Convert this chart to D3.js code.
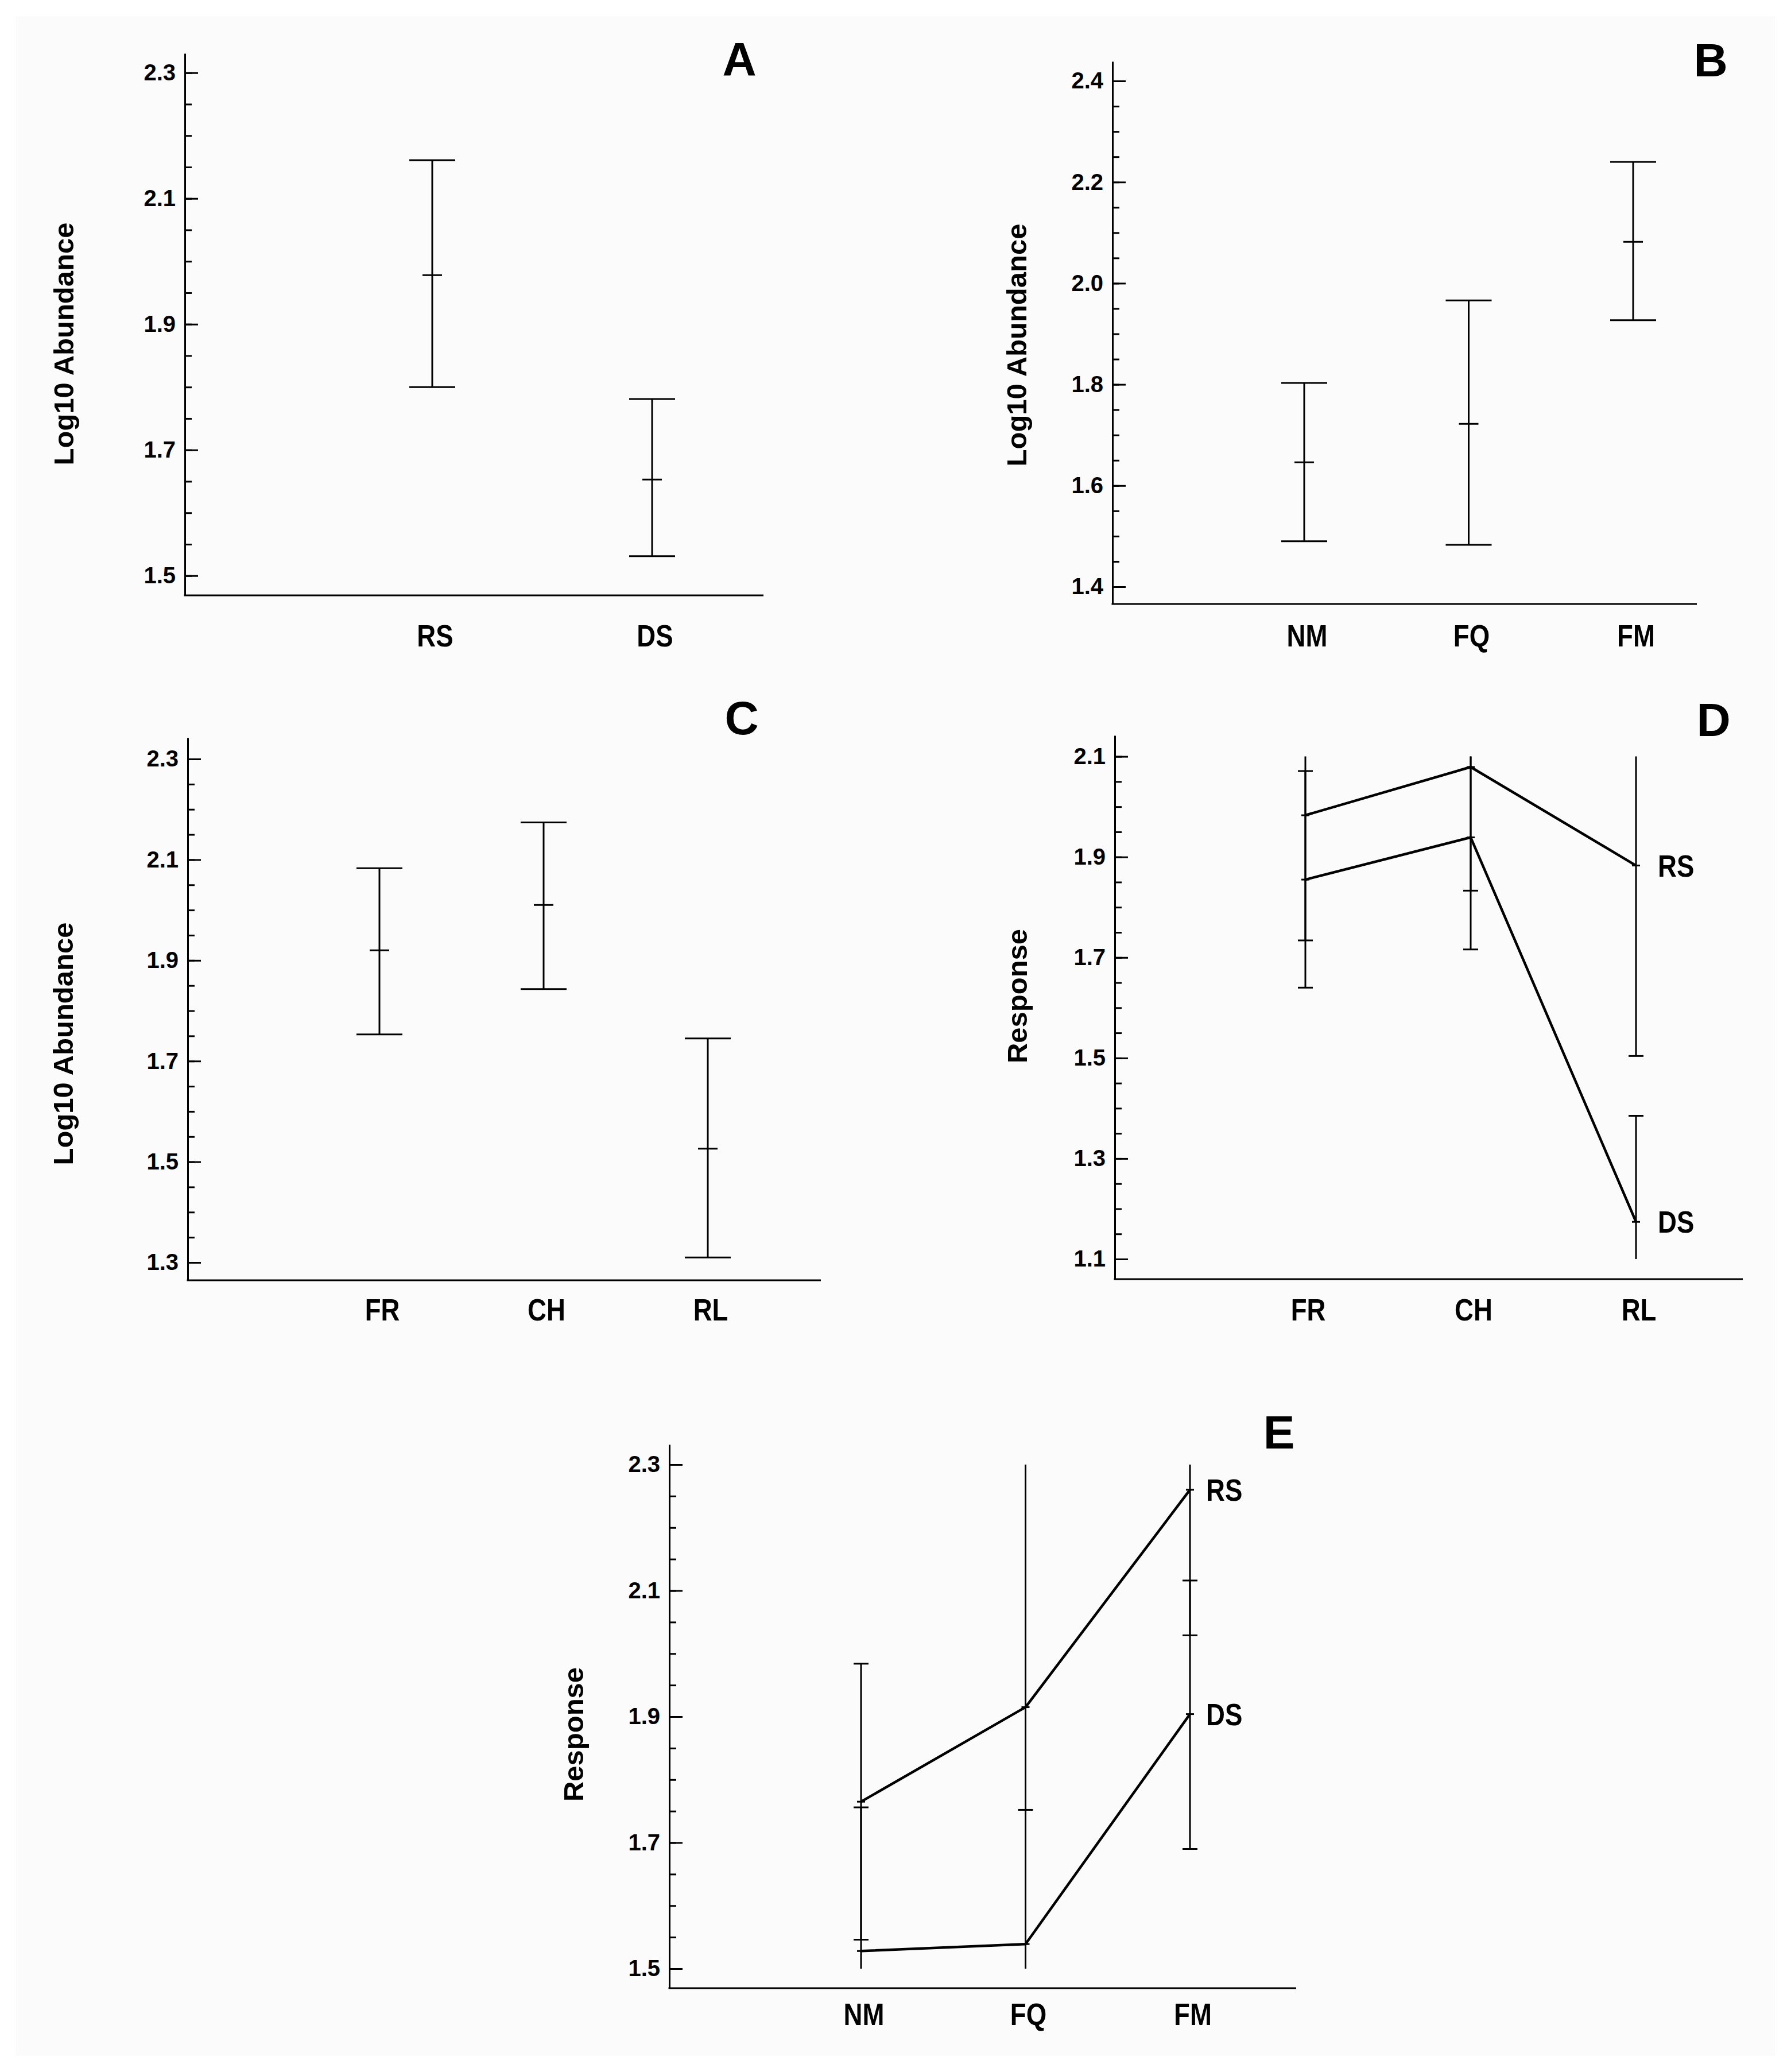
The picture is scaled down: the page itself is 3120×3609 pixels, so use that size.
<!DOCTYPE html>
<html><head><meta charset="utf-8">
<script src="https://cdn.jsdelivr.net/npm/d3@7"></script>
<style>body{margin:0;background:#fff} svg{display:block}</style>
</head><body>
<svg id="fig" width="3120" height="3609"></svg>
<script>
// ---------------- DATA ----------------
const panelLetters = ["A", "B", "C", "D", "E"];
const yTitles = ["Log10 Abundance", "Log10 Abundance", "Log10 Abundance", "Response", "Response"];

const catsA = ["RS", "DS"];
const meanA = [1.978, 1.653];
const lowA  = [1.800, 1.531];
const highA = [2.161, 1.781];
const ticksA = [1.5, 1.7, 1.9, 2.1, 2.3];

const catsB = ["NM", "FQ", "FM"];
const meanB = [1.646, 1.722, 2.082];
const lowB  = [1.490, 1.483, 1.927];
const highB = [1.803, 1.966, 2.240];
const ticksB = [1.4, 1.6, 1.8, 2.0, 2.2, 2.4];

const catsC = ["FR", "CH", "RL"];
const meanC = [1.920, 2.010, 1.526];
const lowC  = [1.753, 1.843, 1.310];
const highC = [2.083, 2.174, 1.745];
const ticksC = [1.3, 1.5, 1.7, 1.9, 2.1, 2.3];

const catsD = ["FR", "CH", "RL"];
const seriesD = ["RS", "DS"];
const meanD_RS = [1.983, 2.079, 1.883];
const lowD_RS  = [1.734, 1.833, 1.504];
const highD_RS = [2.232, 2.325, 2.262];
const meanD_DS = [1.855, 1.939, 1.174];
const lowD_DS  = [1.640, 1.716, 0.963];
const highD_DS = [2.071, 2.162, 1.385];
const ticksD = [1.1, 1.3, 1.5, 1.7, 1.9, 2.1];

const catsE = ["NM", "FQ", "FM"];
const seriesE = ["RS", "DS"];
const meanE_RS = [1.765, 1.915, 2.260];
const lowE_RS  = [1.546, 1.465, 2.029];
const highE_RS = [1.984, 2.365, 2.491];
const meanE_DS = [1.528, 1.539, 1.904];
const lowE_DS  = [1.300, 1.326, 1.690];
const highE_DS = [1.756, 1.752, 2.116];
const ticksE = [1.5, 1.7, 1.9, 2.1, 2.3];

const minorStep = 0.05;

// ---------------- LAYOUT (pixels) ----------------
const layout = [
  {axisX:322,  top:93,   bottom:1037, right:1330, tickPxLow:1002.7, tickPxHigh:126.7, xFirst:753,  xLast:1136, labelY:1126, letterX:1288, letterY:131,  titleX:128,  titleY:599,  capW:80, meanW:34},
  {axisX:1938, top:107,  bottom:1052, right:2956, tickPxLow:1022,   tickPxHigh:141,   xFirst:2272, xLast:2845, labelY:1126, letterX:2980, letterY:133,  titleX:1788, titleY:601,  capW:80, meanW:34},
  {axisX:327,  top:1285, bottom:2230, right:1430, tickPxLow:2199,   tickPxHigh:1322,  xFirst:661,  xLast:1233, labelY:2300, letterX:1292, letterY:1279, titleX:127,  titleY:1818, capW:80, meanW:34},
  {axisX:1942, top:1281, bottom:2228, right:3036, tickPxLow:2193,   tickPxHigh:1317.6,xFirst:2274, xLast:2850, labelY:2300, letterX:2985, letterY:1282, titleX:1789, titleY:1735, capW:26, meanW:14, seriesDx:38},
  {axisX:1166, top:2516, bottom:3463, right:2258, tickPxLow:3429,   tickPxHigh:2551,  xFirst:1500, xLast:2073, labelY:3527, letterX:2228, letterY:2523, titleX:1016, titleY:3021, capW:26, meanW:14, seriesDx:28}
];

const panels = [
  {cats:catsA, ticks:ticksA, series:[{mean:meanA, low:lowA, high:highA}], lines:false},
  {cats:catsB, ticks:ticksB, series:[{mean:meanB, low:lowB, high:highB}], lines:false},
  {cats:catsC, ticks:ticksC, series:[{mean:meanC, low:lowC, high:highC}], lines:false},
  {cats:catsD, ticks:ticksD, lines:true, series:[
     {name:seriesD[0], mean:meanD_RS, low:lowD_RS, high:highD_RS},
     {name:seriesD[1], mean:meanD_DS, low:lowD_DS, high:highD_DS}]},
  {cats:catsE, ticks:ticksE, lines:true, series:[
     {name:seriesE[0], mean:meanE_RS, low:lowE_RS, high:highE_RS},
     {name:seriesE[1], mean:meanE_DS, low:lowE_DS, high:highE_DS}]}
];

// ---------------- DRAW ----------------
const FONT = "'Liberation Sans', Arial, Helvetica, sans-serif";
const CONDENSE = 0.86;   // labels are set in a condensed bold face
const svg = d3.select("#fig");
svg.append("rect").attr("width", 3120).attr("height", 3609).attr("fill", "#ffffff");
svg.append("rect").attr("x", 28).attr("y", 28).attr("width", 3064).attr("height", 3553).attr("fill", "#fbfbfb");

panels.forEach((p, k) => {
  const L = layout[k];
  const g = svg.append("g");
  const tMin = d3.min(p.ticks), tMax = d3.max(p.ticks);
  const yBase = d3.scaleLinear().domain([tMin, tMax]).range([L.tickPxLow, L.tickPxHigh]);
  const y = d3.scaleLinear().domain([yBase.invert(L.bottom), yBase.invert(L.top)]).range([L.bottom, L.top]);
  const x = d3.scalePoint().domain(p.cats).range([L.xFirst, L.xLast]);

  const nMinor = Math.round((tMax - tMin) / minorStep);
  const minor = d3.range(nMinor + 1).map(i => +(tMin + i * minorStep).toFixed(3));

  // minor ticks
  g.append("g").attr("transform", `translate(${L.axisX},0)`)
    .call(d3.axisLeft(y).tickValues(minor).tickSize(-12).tickFormat(""))
    .call(s => s.select(".domain").remove())
    .call(s => s.selectAll("line").attr("stroke", "#000").attr("stroke-width", 3));

  // major ticks + labels + axis line
  g.append("g").attr("transform", `translate(${L.axisX},0)`)
    .call(d3.axisLeft(y).tickValues(p.ticks).tickSize(-23).tickSizeOuter(0).tickPadding(16).tickFormat(d3.format(".1f")))
    .call(s => s.select(".domain").attr("stroke", "#000").attr("stroke-width", 3))
    .call(s => s.selectAll("line").attr("stroke", "#000").attr("stroke-width", 3))
    .call(s => s.selectAll("text").attr("font-family", FONT).attr("font-weight", "bold")
                 .attr("font-size", 40).attr("fill", "#000"));

  // x axis line
  g.append("line").attr("x1", L.axisX - 1.5).attr("x2", L.right)
    .attr("y1", L.bottom).attr("y2", L.bottom)
    .attr("stroke", "#000").attr("stroke-width", 3);

  // category labels
  g.selectAll("text.cat").data(p.cats).join("text").attr("class", "cat")
    .attr("transform", d => `translate(${x(d) + 5},${L.labelY}) scale(${CONDENSE},1)`)
    .attr("text-anchor", "middle").attr("font-family", FONT).attr("font-weight", "bold")
    .attr("font-size", 53).text(d => d);

  // connecting lines (interaction plots)
  if (p.lines) {
    const line = d3.line().x((d, i) => x(p.cats[i])).y(d => y(d));
    p.series.forEach(s => {
      g.append("path").attr("d", line(s.mean)).attr("fill", "none")
        .attr("stroke", "#000").attr("stroke-width", 4.5).attr("stroke-linejoin", "round");
    });
  }

  // error bars
  p.series.forEach(s => {
    p.cats.forEach((c, i) => {
      const cx = x(c);
      const lo = s.low[i], hi = s.high[i], m = s.mean[i];
      const a = Math.max(lo, tMin), b = Math.min(hi, tMax);
      g.append("line").attr("x1", cx).attr("x2", cx).attr("y1", y(a)).attr("y2", y(b))
        .attr("stroke", "#000").attr("stroke-width", 3);
      [lo, hi].forEach(v => {
        if (v >= tMin && v <= tMax) {
          g.append("line").attr("x1", cx - L.capW / 2).attr("x2", cx + L.capW / 2)
            .attr("y1", y(v)).attr("y2", y(v)).attr("stroke", "#000").attr("stroke-width", 3);
        }
      });
      g.append("line").attr("x1", cx - L.meanW / 2).attr("x2", cx + L.meanW / 2)
        .attr("y1", y(m)).attr("y2", y(m)).attr("stroke", "#000").attr("stroke-width", 3);
    });
    if (p.lines) {
      const last = p.cats.length - 1;
      g.append("text")
        .attr("transform", `translate(${x(p.cats[last]) + L.seriesDx},${y(s.mean[last])}) scale(${CONDENSE},1)`)
        .attr("dy", "0.36em").attr("font-family", FONT).attr("font-weight", "bold")
        .attr("font-size", 53).text(s.name);
    }
  });

  // y title
  g.append("text").attr("transform", `translate(${L.titleX},${L.titleY}) rotate(-90)`)
    .attr("text-anchor", "middle").attr("font-family", FONT).attr("font-weight", "bold")
    .attr("font-size", 49).text(yTitles[k]);

  // panel letter
  g.append("text").attr("x", L.letterX).attr("y", L.letterY).attr("text-anchor", "middle")
    .attr("font-family", FONT).attr("font-weight", "bold").attr("font-size", 82).text(panelLetters[k]);
});
</script>
</body></html>
